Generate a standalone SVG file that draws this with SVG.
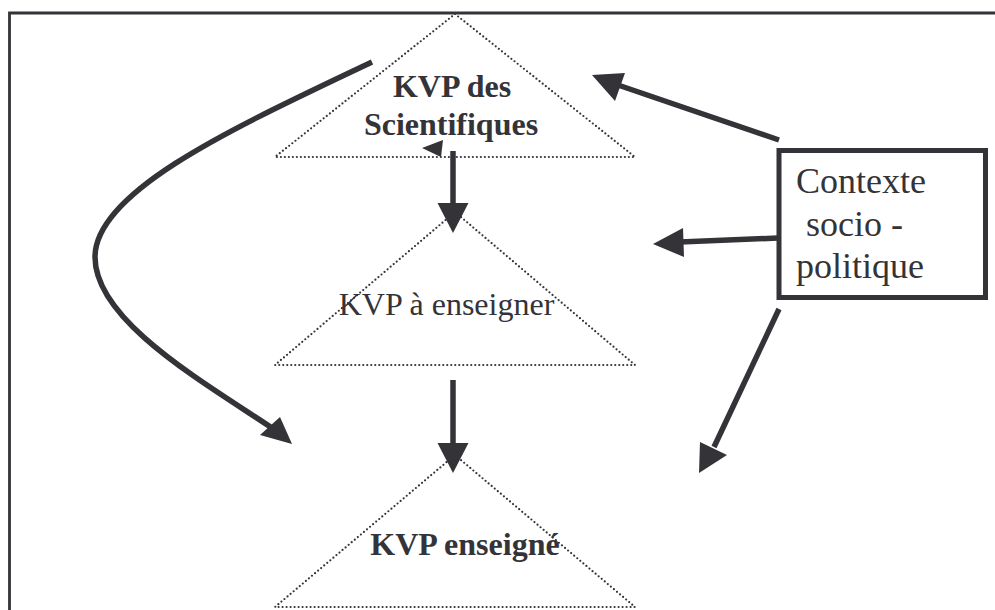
<svg xmlns="http://www.w3.org/2000/svg" width="995" height="610" viewBox="0 0 995 610">
<defs>
<style>
.tri{fill:none;stroke:#333338;stroke-width:2.2;stroke-dasharray:0 4;stroke-linecap:round;stroke-linejoin:round}
.ln{fill:none;stroke:#333338;stroke-width:5.5}
.hd{fill:#333338;stroke:none}
.t{font-family:"Liberation Serif","Times New Roman",serif;fill:#333338}
.b{font-weight:bold;font-size:32px}
.r{font-size:32px}
.c{font-size:36px}
</style>
</defs>
<rect width="995" height="610" fill="#fff"/>
<path d="M9.5,610 V13 H995" fill="none" stroke="#333338" stroke-width="2.8"/>
<g id="node-scientifiques">
<polygon class="tri" points="455,14 635,157 275,157"/>
<text class="t b" text-anchor="middle" x="452" y="97">KVP des</text>
<text class="t b" text-anchor="middle" x="451" y="135">Scientifiques</text>
</g>
<g id="node-a-enseigner">
<polygon class="tri" points="455,212 635,365 275,365"/>
<text class="t r" text-anchor="middle" x="446.5" y="315">KVP à enseigner</text>
</g>
<g id="node-enseigne">
<polygon class="tri" points="455,455 635,607 275,607"/>
<text class="t b" text-anchor="middle" x="465" y="555">KVP enseigné</text>
</g>
<g id="node-contexte">
<rect x="779" y="150.5" width="206.5" height="147" fill="none" stroke="#333338" stroke-width="5"/>
<text class="t c" x="796" y="193">Contexte</text>
<text class="t c" x="806" y="236">socio -</text>
<text class="t c" x="796" y="278">politique</text>
</g>
<g id="connectors">
<path class="ln" d="M453,151 V205"/>
<polygon class="hd" points="437.5,203 468.5,203 453,233"/>
<polygon class="hd" points="422,148 443,140 441,157"/>
<path class="ln" d="M453,380 V445"/>
<polygon class="hd" points="437.5,443 468.5,443 453,473"/>
<path class="ln" d="M779,140 L615,84"/>
<polygon class="hd" points="592,75 625,73 615,101"/>
<path class="ln" d="M778,238 L680,242"/>
<polygon class="hd" points="653,244 683,228 684,257"/>
<path class="ln" d="M779,309 L714,447"/>
<polygon class="hd" points="699,473 700,442 727,455"/>
<path class="ln" d="M372,62 C240,125 95,190 95,257 C95,320 200,380 272,428"/>
<polygon class="hd" points="292,444 260,435 280,417"/>
</g>
</svg>
